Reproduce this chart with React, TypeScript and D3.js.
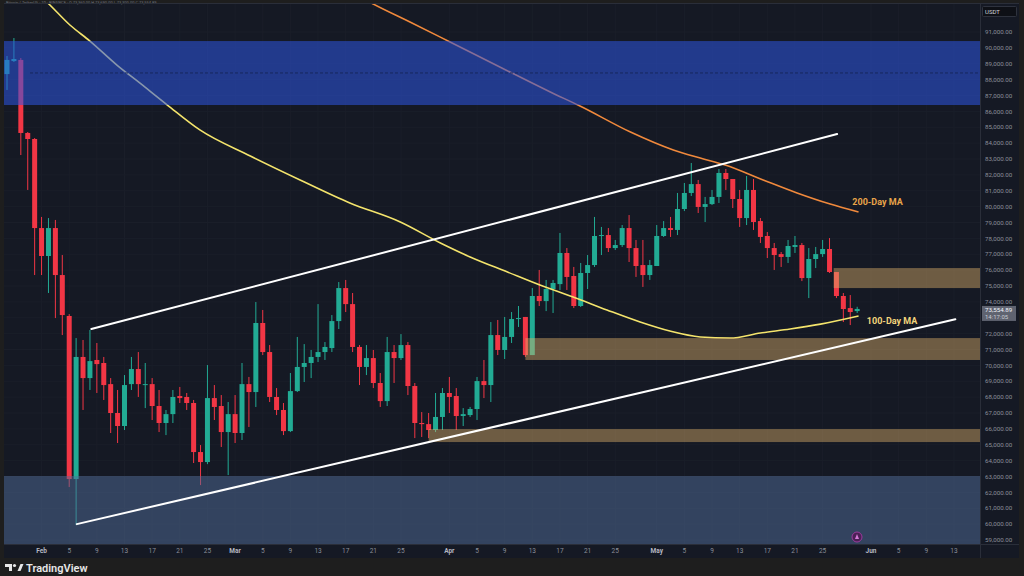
import * as d3 from 'd3';

const VW = 1024;
const VH = 576;
const PLOT = { left: 4, right: 980, top: 4, bottom: 544 };

const BG = '#151924';
const FRAME = '#1e1e1e';
const UP = '#22ab94';
const DOWN = '#f23645';
const AXIS_TXT = '#8b8f9a';
const FONT = 'Roboto, "Liberation Sans", sans-serif';

const START = Date.UTC(2025, 0, 27);
const DAY = 86400000;

// daily candles from Jan 27
const OPEN = [
  88350, 89170, 89240, 84640, 84260, 78650, 76890, 78650, 75690, 73110,
  62840, 70530, 69200, 70340, 70150, 68820, 67000, 66180, 68820, 69770,
  68760, 68820, 67440, 66370, 66930, 68070, 68010, 67630, 64540, 63910,
  67940, 67440, 65800, 66930, 65740, 68820, 68320, 72670, 70840, 68010,
  67190, 65860, 68380, 69900, 70150, 70530, 70840, 71090, 72790, 74870,
  73860, 71160, 69900, 70460, 68890, 67750, 70840, 70460, 71280, 68700,
  66370, 66300, 65930, 66750, 68260, 68070, 66810, 66870, 67250, 69010,
  68760, 71910, 70970, 71790, 72920, 73050, 70650, 74370, 74050, 74810,
  75120, 77080, 75630, 73740, 75820, 76320, 78150, 78210, 77390, 77580,
  78650, 77390, 76320, 75690, 76260, 78150, 78650, 78530, 79850, 80860,
  81420, 79980, 80160, 80610, 82120, 81740, 80480, 79280, 81050, 79090,
  78150, 77390, 77010, 76830, 77460, 77580, 75500, 76700, 77010, 77330,
  75880, 74370, 73610, 73420,
];
const HIGH = [
  89490, 90620, 89360, 84700, 84320, 79350, 79280, 79160, 76950, 73230,
  71720, 71600, 72230, 71410, 70530, 69200, 68450, 69390, 70530, 70840,
  70150, 69200, 68450, 67190, 68450, 68640, 68260, 67820, 64980, 70020,
  68760, 68130, 67690, 68130, 70150, 69270, 73990, 73490, 71280, 68570,
  67630, 69520, 71790, 71340, 70970, 73860, 71470, 73170, 75250, 75380,
  74560, 71280, 71280, 70970, 69520, 71790, 71280, 71970, 71470, 68890,
  67060, 67000, 68260, 68570, 69270, 68570, 67310, 67380, 69270, 70340,
  72730, 72860, 73050, 73360, 73740, 73050, 74870, 76010, 75380, 75380,
  78340, 77390, 76200, 76450, 76950, 79350, 78720, 78650, 77900, 78840,
  79470, 77900, 77900, 76640, 78840, 79090, 79350, 80860, 81490, 82750,
  81680, 80610, 81050, 82370, 82370, 81740, 81050, 81930, 81740, 79280,
  78400, 77710, 77140, 77900, 78150, 77710, 77390, 77460, 77900, 78020,
  75880, 74560, 74430, 73690,
];
const LOW = [
  87350, 89110, 83250, 81050, 75690, 75690, 74560, 72980, 71910, 62340,
  59940, 67190, 68450, 68260, 67820, 65740, 65110, 65930, 68450, 68010,
  67310, 66560, 65800, 65610, 66370, 67630, 67190, 63850, 62460, 63780,
  66560, 64860, 63090, 65110, 65300, 66120, 67380, 70650, 67690, 66870,
  65610, 65800, 68320, 68950, 69200, 70210, 70340, 70840, 72290, 73360,
  70840, 68760, 69390, 68570, 67380, 67440, 68890, 70340, 68130, 65420,
  65490, 65420, 65800, 65930, 67000, 65930, 66180, 66750, 66560, 67940,
  67690, 70650, 70400, 71410, 72420, 70530, 70650, 73740, 73420, 73300,
  74750, 74750, 73610, 73680, 74810, 76200, 76950, 77140, 77270, 77460,
  76510, 75570, 74940, 75380, 76260, 78090, 78090, 78210, 79720, 80670,
  79600, 79030, 80100, 80230, 81050, 79910, 78720, 78840, 78530, 77710,
  76760, 76010, 76200, 76450, 77080, 75310, 74240, 76130, 76830, 75820,
  74240, 72730, 72540, 73300,
];
const CLOSE = [
  89240, 89300, 84640, 84260, 78650, 76890, 78650, 75690, 73170, 62840,
  70530, 69200, 70270, 70080, 68760, 67000, 66180, 68760, 69770, 68820,
  68820, 67440, 66370, 66930, 68010, 67940, 67630, 64540, 63910, 67940,
  67380, 65800, 66930, 65740, 68820, 68320, 72670, 70840, 68010, 67190,
  65860, 68380, 69900, 70150, 70530, 70840, 71160, 72790, 74870, 73860,
  71160, 69900, 70460, 68890, 67750, 70840, 70460, 71280, 68700, 66370,
  66300, 65930, 66750, 68260, 68010, 66810, 66930, 67250, 69010, 68760,
  71910, 70970, 71790, 72920, 72980, 70650, 74370, 74050, 74810, 75190,
  77080, 75570, 73740, 75820, 76320, 78150, 78210, 77390, 77580, 78650,
  77390, 76260, 75690, 76320, 78150, 78650, 78530, 79850, 80860, 81420,
  79980, 80160, 80610, 82120, 81740, 80480, 79280, 81050, 79030, 78090,
  77390, 76950, 76830, 77520, 77580, 75500, 76700, 77010, 77330, 75880,
  74370, 73550, 73360, 73555,
];

// moving averages (day offset from Jan 27, price)
const MA100_DAY = [4.8, 5.9, 9.1, 12.0, 15.9, 19.2, 23.2, 27.9, 35.2, 42.4, 49.6, 56.9, 62.7, 67.0, 72.4, 77.1, 81.9, 86.8, 91.6, 95.9, 100.3, 104.6, 109.0, 113.3, 117.7, 123.2];
const MA100_VAL = [93270, 92830, 91440, 90430, 88920, 87790, 86400, 84830, 83190, 81680, 80230, 79030, 77710, 76830, 75880, 75060, 74310, 73490, 72730, 72160, 71790, 71720, 72040, 72290, 72600, 73110];
const MA200_DAY = [51.1, 53.0, 58.3, 64.1, 71.3, 78.6, 82.9, 90.2, 96.4, 100.3, 103.9, 109.4, 114.3, 119.1, 123.2];
const MA200_VAL = [93210, 92760, 91630, 90370, 88800, 87220, 86340, 84700, 83570, 83060, 82620, 81680, 80860, 80160, 79660];

// channel lines [day, price] -> [day, price]
const CHANNEL_TOP = [[12.2, 72290], [120.1, 84570]];
const CHANNEL_BOTTOM = [[10.1, 60000], [137.2, 72900]];

// zones
const SUPPLY = [90430, 86400];
const SUPPLY_MID = 88420;
const DEMAND = [63030, 58000];
const ZONE_START = [119.6, 75, 61];
const ZONE_HI = [76130, 71720, 65990];
const ZONE_LO = [74870, 70340, 65170];

const LAST_PRICE = 73554.89;
const LAST_TIME = '14:17:05';

const PRICE_TICKS = d3.range(59000, 91001, 1000);
const MONTHS = ['Feb', 'Mar', 'Apr', 'May', 'Jun'];
const DAY_LABELS = [5, 9, 13, 17, 21, 25];
const JUN_DAYS = [5, 9, 13];

const fmtPrice = d3.format(',.2f');

export default function App() {
  const x = d3.scaleUtc()
    .domain([new Date(START), new Date(START + 125 * DAY)])
    .range([7, 871]);
  const y = d3.scaleLinear().domain([59000, 91000]).range([540, 32]);
  const dx = (d: number) => x(new Date(START + d * DAY));

  const candles = OPEN.map((o, i) => ({ i, o, h: HIGH[i], l: LOW[i], c: CLOSE[i] }));
  const maLine = d3.line<[number, number]>()
    .x(d => dx(d[0]))
    .y(d => y(d[1]))
    .curve(d3.curveMonotoneX);
  const ma100 = maLine(MA100_DAY.map((d, i) => [d, MA100_VAL[i]] as [number, number])) ?? '';
  const ma200 = maLine(MA200_DAY.map((d, i) => [d, MA200_VAL[i]] as [number, number])) ?? '';

  const xTicks: { date: Date; label: string; month: boolean }[] = [];
  MONTHS.forEach((m, mi) => {
    xTicks.push({ date: new Date(Date.UTC(2025, mi + 1, 1)), label: m, month: true });
    (m === 'Jun' ? JUN_DAYS : DAY_LABELS).forEach(dd =>
      xTicks.push({ date: new Date(Date.UTC(2025, mi + 1, dd)), label: String(dd), month: false }));
  });

  // the last-price tag hides the axis label it sits on
  const tagY = y(LAST_PRICE);
  const axisTicks = PRICE_TICKS.filter(p => Math.abs(y(p) - (tagY + 4.5)) > 9);

  const bw = 5;
  const pw = PLOT.right - PLOT.left;

  return (
    <svg width={VW} height={VH} viewBox={`0 0 ${VW} ${VH}`}
      style={{ position: 'fixed', left: 0, top: 0, display: 'block' }}>
      <defs>
        <clipPath id="plot">
          <rect x={PLOT.left} y={PLOT.top} width={pw} height={PLOT.bottom - PLOT.top} />
        </clipPath>
      </defs>
      <rect width={VW} height={VH} fill={FRAME} />
      <rect x={PLOT.left} y={PLOT.top} width={1019 - PLOT.left} height={558 - PLOT.top} fill={BG} />

      <text x={6} y={3.6} fontSize={4} fill="#6f737d" fontFamily={FONT}>
        Bitcoin / TetherUS · 1D · BINANCE · O 73,360.00 H 73,690.00 L 73,300.00 C 73,554.89
      </text>

      <g clipPath="url(#plot)">
        {/* faint grid */}
        {xTicks.map((t, k) => (
          <line key={`gx${k}`} x1={x(t.date)} x2={x(t.date)} y1={PLOT.top} y2={PLOT.bottom} stroke="#1a1e29" />
        ))}
        {PRICE_TICKS.map(p => (
          <line key={`gy${p}`} x1={PLOT.left} x2={PLOT.right} y1={y(p)} y2={y(p)} stroke="#1a1e29" />
        ))}

        {/* candles */}
        {candles.map(d => {
          const cx = dx(d.i);
          const col = d.c >= d.o ? UP : DOWN;
          const top = y(Math.max(d.o, d.c));
          const h = Math.max(1, y(Math.min(d.o, d.c)) - top);
          return (
            <g key={d.i}>
              <line x1={cx} x2={cx} y1={y(d.h)} y2={y(d.l)} stroke={col} strokeWidth={1} />
              <rect x={cx - bw / 2} y={top} width={bw} height={h} fill={col} />
            </g>
          );
        })}

        {/* moving averages */}
        <path d={ma200} fill="none" stroke="#f0893c" strokeWidth={1.6} />
        <path d={ma100} fill="none" stroke="#f4e46c" strokeWidth={1.6} />

        {/* zones */}
        <rect x={PLOT.left} y={y(SUPPLY[0])} width={pw} height={y(SUPPLY[1]) - y(SUPPLY[0])}
          fill="rgb(45,85,225)" fillOpacity={0.55} />
        <line x1={30} x2={PLOT.right} y1={y(SUPPLY_MID)} y2={y(SUPPLY_MID)}
          stroke="#16285e" strokeWidth={1} strokeDasharray="3 2" />
        <rect x={PLOT.left} y={y(DEMAND[0])} width={pw} height={y(DEMAND[1]) - y(DEMAND[0])}
          fill="rgb(82,110,153)" fillOpacity={0.5} />
        {ZONE_START.map((s, k) => (
          <rect key={`z${k}`} x={dx(s)} y={y(ZONE_HI[k])} width={PLOT.right - dx(s)}
            height={y(ZONE_LO[k]) - y(ZONE_HI[k])} fill="rgb(220,175,106)" fillOpacity={0.45} />
        ))}

        {/* channel */}
        {[CHANNEL_TOP, CHANNEL_BOTTOM].map((c, k) => (
          <line key={`ch${k}`} x1={dx(c[0][0])} y1={y(c[0][1])} x2={dx(c[1][0])} y2={y(c[1][1])}
            stroke="#ffffff" strokeWidth={2} strokeLinecap="round" />
        ))}

        <text x={dx(122.3)} y={y(80100)} fontSize={9} fontWeight={700} fill="#e9a54a" fontFamily={FONT}>200-Day MA</text>
        <text x={dx(124.4)} y={y(72600)} fontSize={9} fontWeight={700} fill="#f3d57c" fontFamily={FONT}>100-Day MA</text>

        <circle cx={857} cy={537} r={5} fill="#4b1f55" stroke="#9a3c9e" strokeWidth={1} />
        <path d="M855,539 L857,534 L859,539 Z" fill="#d27ad6" />
      </g>

      {/* axis separators */}
      <line x1={PLOT.right + 0.5} x2={PLOT.right + 0.5} y1={PLOT.top} y2={558} stroke="#2a2e39" />
      <line x1={PLOT.left} x2={1019} y1={PLOT.bottom + 0.5} y2={PLOT.bottom + 0.5} stroke="#2a2e39" />
      <line x1={PLOT.left} x2={1019} y1={PLOT.top - 0.5} y2={PLOT.top - 0.5} stroke="#2a2e39" />

      {/* price axis */}
      {axisTicks.map(p => (
        <text key={`py${p}`} x={985} y={y(p)} dy="0.35em" fontSize={6.2} fill={AXIS_TXT} fontFamily={FONT}>
          {fmtPrice(p)}
        </text>
      ))}
      <rect x={982.5} y={6.5} width={34} height={10} fill="#0e1016" stroke="#2e323d" rx={1} />
      <text x={985} y={11.5} dy="0.35em" fontSize={6} fill="#d1d4dc" fontFamily={FONT}>USDT</text>
      <rect x={982} y={tagY - 3} width={34} height={15} fill="#5f6370" />
      <text x={985} y={tagY + 1} dy="0.35em" fontSize={6.2} fill="#f0f3fa" fontFamily={FONT}>
        {fmtPrice(LAST_PRICE)}
      </text>
      <text x={985} y={tagY + 8} dy="0.35em" fontSize={6} fill="#c8cbd3" fontFamily={FONT}>
        {LAST_TIME}
      </text>

      {/* time axis */}
      {xTicks.map((t, k) => (
        <text key={`tx${k}`} x={x(t.date)} y={551} dy="0.35em" textAnchor="middle"
          fontSize={6.5} fontWeight={t.month ? 700 : 400} fill={t.month ? '#b5b8c2' : AXIS_TXT} fontFamily={FONT}>
          {t.label}
        </text>
      ))}

      {/* footer logo */}
      <g fill="#e8e8e8">
        <path d="M5,564 h7 v7 h-3 v-4 h-4 z" />
        <circle cx={14.5} cy={565.5} r={1.6} />
        <path d="M17.5,571 l3,-7 h3 l-3,7 z" />
      </g>
      <text x={26} y={572} fontSize={11} fontWeight={600} fill="#e8e8e8" fontFamily={FONT}>TradingView</text>
    </svg>
  );
}
